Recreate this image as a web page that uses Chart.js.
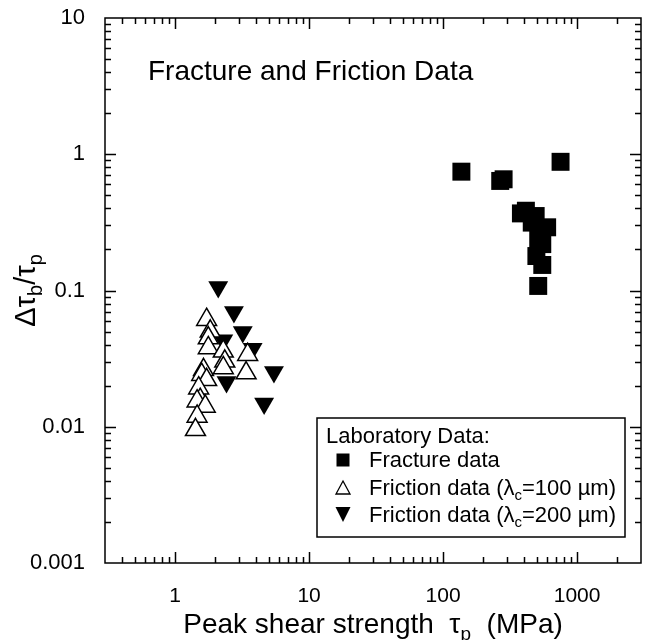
<!DOCTYPE html>
<html>
<head>
<meta charset="utf-8">
<script src="https://cdn.jsdelivr.net/npm/chart.js@4.4.1/dist/chart.umd.min.js"></script>
<style>
  html, body { margin: 0; padding: 0; background: #fff; }
  #wrap { width: 654px; height: 640px; }
</style>
</head>
<body>
<div id="wrap"><canvas id="chart" width="654" height="640"></canvas></div>
<script>
// Fracture data (filled squares)
const fractureX = [137, 267, 283, 753, 381, 415, 491, 459, 598, 513, 550, 497, 550, 513];
const fractureY = [0.745, 0.637, 0.655, 0.88, 0.368, 0.385, 0.352, 0.315, 0.291, 0.235, 0.219, 0.179, 0.154, 0.108];

// Friction data, lambda_c = 100 um (open up triangles)
const fric100X = [1.72, 1.83, 1.77, 1.77, 2.29, 2.35, 2.29, 3.48, 3.39, 1.63, 1.58, 1.72, 1.50, 1.54, 1.46, 1.68, 1.46, 1.42];
const fric100Y = [0.061, 0.0502, 0.0448, 0.0379, 0.0358, 0.0302, 0.0270, 0.0338, 0.0248, 0.0262, 0.0241, 0.0221, 0.0192, 0.0158, 0.0154, 0.0141, 0.0119, 0.0095];

// Friction data, lambda_c = 200 um (filled down triangles)
const fric200X = [2.10, 2.75, 3.20, 2.29, 3.79, 2.42, 5.47, 4.62];
const fric200Y = [0.106, 0.0695, 0.0496, 0.0431, 0.0374, 0.0213, 0.0252, 0.0148];

const xTicks = [1, 10, 100, 1000];
const yTicks = [0.001, 0.01, 0.1, 1, 10];

const FONT = '"Liberation Sans", Arial, Helvetica, sans-serif';

function toPoints(xs, ys) {
  return xs.map((x, i) => ({ x: x, y: ys[i] }));
}

function logTicks(min, max) {
  const out = [];
  for (let e = Math.floor(Math.log10(min)); e <= Math.ceil(Math.log10(max)); e++) {
    for (let m = 1; m < 10; m++) {
      const v = m * Math.pow(10, e);
      if (v > min * 1.0001 && v < max * 0.9999) out.push({ v: v, major: m === 1 });
    }
  }
  return out;
}

// text with subscripts, parts = [{t, sub}]
function drawRich(ctx, parts, x, y, size, align) {
  const big = size + 'px ' + FONT;
  const small = Math.round(size * 0.68) + 'px ' + FONT;
  let w = 0;
  parts.forEach(p => { ctx.font = p.sub ? small : big; w += ctx.measureText(p.t).width; });
  let cx = align === 'center' ? x - w / 2 : x;
  parts.forEach(p => {
    ctx.font = p.sub ? small : big;
    ctx.fillText(p.t, cx, p.sub ? y + size * 0.24 : y);
    cx += ctx.measureText(p.t).width;
  });
}

// frame with inward ticks on all four sides
const frameTicks = {
  id: 'frameTicks',
  afterDatasetsDraw(chart) {
    const ctx = chart.ctx;
    const a = chart.chartArea;
    const xs = chart.scales.x, ys = chart.scales.y;
    ctx.save();
    ctx.strokeStyle = '#000';
    ctx.lineWidth = 1.5;
    ctx.strokeRect(a.left, a.top, a.right - a.left, a.bottom - a.top);
    ctx.beginPath();
    logTicks(xs.min, xs.max).forEach(t => {
      const px = Math.round(xs.getPixelForValue(t.v)) + 0.5;
      const len = t.major ? 11 : 6;
      ctx.moveTo(px, a.bottom); ctx.lineTo(px, a.bottom - len);
      ctx.moveTo(px, a.top); ctx.lineTo(px, a.top + len);
    });
    logTicks(ys.min, ys.max).forEach(t => {
      const py = Math.round(ys.getPixelForValue(t.v)) + 0.5;
      const len = t.major ? 11 : 6;
      ctx.moveTo(a.left, py); ctx.lineTo(a.left + len, py);
      ctx.moveTo(a.right, py); ctx.lineTo(a.right - len, py);
    });
    ctx.stroke();
    ctx.restore();
  }
};

const labels = {
  id: 'labels',
  afterDraw(chart) {
    const ctx = chart.ctx;
    const a = chart.chartArea;
    ctx.save();
    ctx.fillStyle = '#000';
    ctx.textBaseline = 'alphabetic';

    // title inside the plot
    ctx.font = '28px ' + FONT;
    ctx.fillText('Fracture and Friction Data', 148, 80);

    // x axis title
    drawRich(ctx, [
      { t: 'Peak shear strength  \u03c4' }, { t: 'p', sub: true }, { t: '  (MPa)' }
    ], (a.left + a.right) / 2, 633, 28, 'center');

    // y axis title
    ctx.save();
    ctx.translate(35, (a.top + a.bottom) / 2);
    ctx.rotate(-Math.PI / 2);
    drawRich(ctx, [
      { t: '\u0394\u03c4' }, { t: 'b', sub: true }, { t: '/\u03c4' }, { t: 'p', sub: true }
    ], 0, 0, 29, 'center');
    ctx.restore();

    // legend box
    const bx = 317, by = 418, bw = 308, bh = 119;
    ctx.fillStyle = '#fff';
    ctx.fillRect(bx, by, bw, bh);
    ctx.strokeStyle = '#000';
    ctx.lineWidth = 1.5;
    ctx.strokeRect(bx, by, bw, bh);
    ctx.fillStyle = '#000';
    ctx.font = '22px ' + FONT;
    ctx.fillText('Laboratory Data:', 326, 443);

    const mx = 343, tx = 369;
    // square
    ctx.fillRect(mx - 6.5, 467 - 7 - 6.5, 13, 13);
    ctx.fillText('Fracture data', tx, 467);
    // open triangle
    ctx.beginPath();
    ctx.moveTo(mx, 495 - 14); ctx.lineTo(mx + 7, 495 - 1); ctx.lineTo(mx - 7, 495 - 1); ctx.closePath();
    ctx.lineWidth = 1.3;
    ctx.stroke();
    drawRich(ctx, [
      { t: 'Friction data (\u03bb' }, { t: 'c', sub: true }, { t: '=100 \u00b5m)' }
    ], tx, 495, 22, 'left');
    // filled down triangle
    ctx.beginPath();
    ctx.moveTo(mx - 7.5, 522 - 15); ctx.lineTo(mx + 7.5, 522 - 15); ctx.lineTo(mx, 522); ctx.closePath();
    ctx.fill();
    drawRich(ctx, [
      { t: 'Friction data (\u03bb' }, { t: 'c', sub: true }, { t: '=200 \u00b5m)' }
    ], tx, 522, 22, 'left');
    ctx.restore();
  }
};

const ctx = document.getElementById('chart').getContext('2d');
const chart = new Chart(ctx, {
  type: 'scatter',
  data: {
    datasets: [
      {
        label: 'Friction data (100 um)',
        data: toPoints(fric100X, fric100Y),
        pointStyle: 'triangle',
        pointRadius: 11.5,
        backgroundColor: '#fff',
        borderColor: '#000',
        borderWidth: 1.5
      },
      {
        label: 'Friction data (200 um)',
        data: toPoints(fric200X, fric200Y),
        pointStyle: 'triangle',
        rotation: 180,
        pointRadius: 11.5,
        backgroundColor: '#000',
        borderColor: '#000',
        borderWidth: 0
      },
      {
        label: 'Fracture data',
        data: toPoints(fractureX, fractureY),
        pointStyle: 'rect',
        pointRadius: 12.7,
        backgroundColor: '#000',
        borderColor: '#000',
        borderWidth: 0
      }
    ]
  },
  options: {
    responsive: false,
    animation: false,
    devicePixelRatio: 1,
    layout: { padding: { top: 18, right: 3, bottom: 0, left: 0 } },
    plugins: {
      legend: { display: false },
      tooltip: { enabled: false }
    },
    scales: {
      x: {
        type: 'logarithmic',
        position: 'bottom',
        min: 0.3,
        max: 3000,
        afterBuildTicks: s => { s.ticks = xTicks.map(v => ({ value: v })); },
        afterFit: s => { s.height = 77; s.paddingLeft = 0; s.paddingRight = 0; },
        grid: { display: false },
        border: { display: false },
        ticks: {
          autoSkip: false,
          maxRotation: 0,
          padding: 13,
          color: '#000',
          font: { family: FONT, size: 21 },
          callback: v => String(v)
        }
      },
      y: {
        type: 'logarithmic',
        position: 'left',
        min: 0.001,
        max: 10,
        afterBuildTicks: s => { s.ticks = yTicks.map(v => ({ value: v })); },
        afterFit: s => { s.width = 105; s.paddingTop = 0; s.paddingBottom = 0; },
        grid: { display: false },
        border: { display: false },
        ticks: {
          autoSkip: false,
          padding: 12,
          color: '#000',
          font: { family: FONT, size: 22 },
          callback: v => String(v)
        }
      }
    }
  },
  plugins: [frameTicks, labels]
});
</script>
</body>
</html>
